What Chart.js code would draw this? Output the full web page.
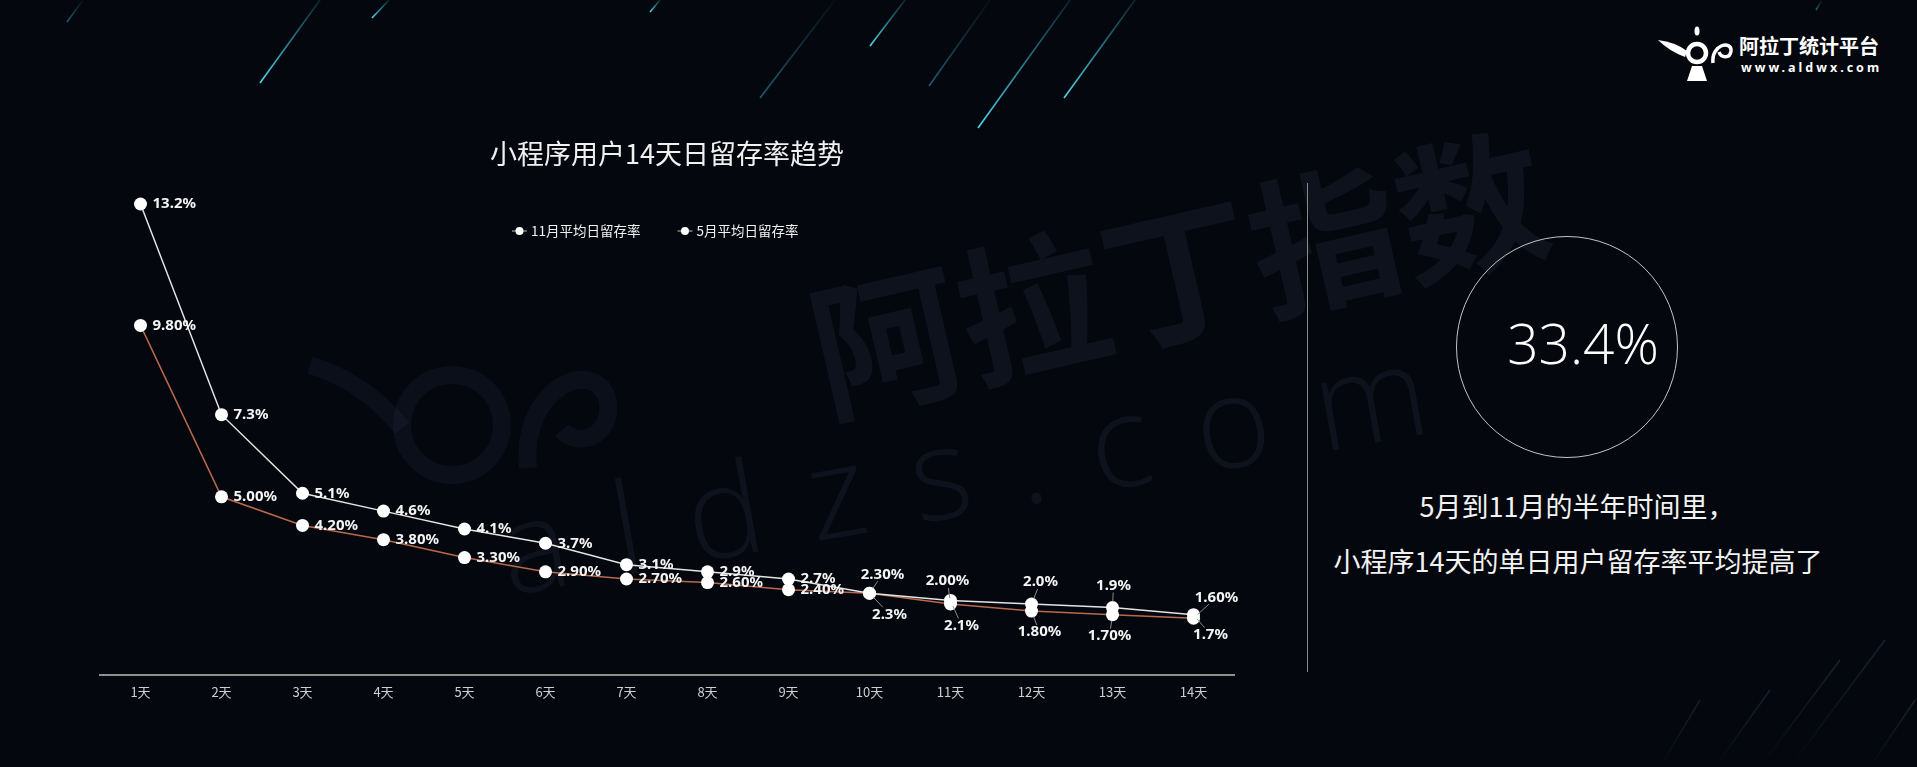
<!DOCTYPE html>
<html>
<head>
<meta charset="utf-8">
<script src="https://cdn.jsdelivr.net/npm/chart.js@4.4.1/dist/chart.umd.min.js"></script>
<style>
  html, body { margin: 0; padding: 0; background: #05070e; width: 1917px; height: 767px; overflow: hidden; }
  body { font-family: "Noto Sans CJK SC", "Noto Sans", sans-serif; color: #f2f2f2; position: relative; }
  .abs { position: absolute; white-space: nowrap; }
  #deco { position: absolute; left: 0; top: 0; }
  #wrap { position: absolute; left: 0; top: 0; width: 1300px; height: 728px; }
  .mark { color: rgba(70, 90, 125, 0.13); line-height: 1; transform-origin: center center; }
</style>
</head>
<body>

<!-- background decoration -->
<svg id="deco" width="1917" height="767">
  <defs>
    <linearGradient id="streak" x1="0" y1="0" x2="0" y2="1">
      <stop offset="0" stop-color="#37c6e0" stop-opacity="0.15"/>
      <stop offset="1" stop-color="#4fd8ee" stop-opacity="1"/>
    </linearGradient>
    <linearGradient id="streakDim" x1="0" y1="0" x2="0" y2="1">
      <stop offset="0" stop-color="#2a8aa0" stop-opacity="0.05"/>
      <stop offset="1" stop-color="#2a9ab4" stop-opacity="0.6"/>
    </linearGradient>
    <linearGradient id="streakLow" x1="0" y1="0" x2="0" y2="1">
      <stop offset="0" stop-color="#1c3a4c" stop-opacity="0.6"/>
      <stop offset="1" stop-color="#1c3a4c" stop-opacity="0"/>
    </linearGradient>
  </defs>
  <g stroke-width="1.6" fill="none">
    <line x1="83" y1="0" x2="67" y2="22" stroke="url(#streakDim)"/>
    <line x1="320" y1="0" x2="260" y2="83" stroke="url(#streak)"/>
    <line x1="389" y1="0" x2="372" y2="18" stroke="url(#streak)"/>
    <line x1="660" y1="0" x2="650" y2="12" stroke="url(#streak)"/>
    <line x1="835" y1="0" x2="760" y2="98" stroke="url(#streakDim)"/>
    <line x1="905" y1="0" x2="870" y2="46" stroke="url(#streak)"/>
    <line x1="990" y1="0" x2="929" y2="86" stroke="url(#streakDim)"/>
    <line x1="1070" y1="0" x2="978" y2="128" stroke="url(#streak)"/>
    <line x1="1135" y1="0" x2="1064" y2="98" stroke="url(#streak)"/>
    <line x1="1822" y1="0" x2="1816" y2="10" stroke="url(#streakDim)"/>
  </g>
  <g stroke-width="1.4" fill="none">
    <line x1="1885" y1="640" x2="1790" y2="767" stroke="url(#streakLow)"/>
    <line x1="1840" y1="660" x2="1760" y2="767" stroke="url(#streakLow)"/>
    <line x1="1770" y1="690" x2="1715" y2="767" stroke="url(#streakLow)"/>
    <line x1="1915" y1="700" x2="1870" y2="767" stroke="url(#streakLow)"/>
    <line x1="1700" y1="700" x2="1660" y2="767" stroke="url(#streakLow)"/>
  </g>
  <!-- faint watermark lamp -->
  <g stroke="rgba(70,90,125,0.1)" fill="none" stroke-width="18">
    <circle cx="452" cy="425" r="50"/>
    <path d="M310 365 Q365 382 402 428"/>
    <path d="M528 468 C520 385 598 355 608 402 C612 438 576 448 562 430"/>
  </g>
  <!-- logo lamp -->
  <g fill="#ffffff" stroke="none">
    <ellipse cx="1697" cy="31" rx="2.5" ry="4.5"/>
    <path d="M1658 40 Q1675 42 1687 51 L1685 57 Q1669 51 1658 40 Z"/>
    <path d="M1692 66 L1702 66 L1707 81 L1687 81 Z"/>
  </g>
  <g fill="none" stroke="#ffffff">
    <circle cx="1697" cy="53" r="9" stroke-width="4.5"/>
    <path d="M1713 63 C1711 44 1732 40 1731 51 C1730 59 1721 58 1719 52" stroke-width="3.5"/>
  </g>
</svg>

<!-- watermark text -->
<div class="abs mark" style="left:1177px;top:266px;font-size:150px;font-weight:bold;transform:translate(-50%,-50%) rotate(-13deg);">阿拉丁指数</div>
<div class="abs mark" style="left:985px;top:462px;font-size:128px;font-weight:300;letter-spacing:46px;font-family:'Open Sans',sans-serif;transform:translate(-50%,-50%) rotate(-10deg);">aldzs.com</div>

<!-- chart -->
<div id="wrap"><canvas id="retention" width="1300" height="728"></canvas></div>

<!-- right panel -->
<div class="abs" style="left:1307px;top:183px;width:1px;height:489px;background:#8a8a8a;"></div>
<div class="abs" style="left:1456px;top:236px;width:220px;height:220px;border:1.5px solid #c4c4c4;border-radius:50%;"></div>
<div class="abs" style="left:1583px;top:342px;transform:translate(-50%,-50%);font-family:'Open Sans',sans-serif;font-weight:300;font-size:55px;line-height:1;color:#ffffff;">33.4%</div>
<div class="abs" style="left:1577px;top:505px;transform:translate(-50%,-50%);font-size:27px;line-height:1;">5月到11月的半年时间里，</div>
<div class="abs" style="left:1578px;top:560px;transform:translate(-50%,-50%);font-size:27px;line-height:1;">小程序14天的单日用户留存率平均提高了</div>

<!-- logo text -->
<div class="abs" style="left:1739px;top:46px;transform:translateY(-50%);font-size:20px;font-weight:bold;line-height:1;color:#fff;">阿拉丁统计平台</div>
<div class="abs" style="left:1741px;top:68px;transform:translateY(-50%);font-family:'Noto Sans',sans-serif;font-size:12.5px;font-weight:bold;letter-spacing:3px;line-height:1;color:#fff;">www.aldwx.com</div>

<script>
const days = ['1天', '2天', '3天', '4天', '5天', '6天', '7天', '8天', '9天', '10天', '11天', '12天', '13天', '14天'];
const novRate = [13.2, 7.3, 5.1, 4.6, 4.1, 3.7, 3.1, 2.9, 2.7, 2.3, 2.1, 2.0, 1.9, 1.7];
const mayRate = [9.8, 5.0, 4.2, 3.8, 3.3, 2.9, 2.7, 2.6, 2.4, 2.3, 2.0, 1.8, 1.7, 1.6];
const seriesNames = ['11月平均日留存率', '5月平均日留存率'];

// where the crowded labels on the right sit, relative to their point (dx, dy)
const labelShift = [
  { 9: [20, 21], 10: [11, 25], 11: [9, -22], 12: [1, -22], 13: [17, 20] },
  { 9: [13, -19], 10: [-3, -23], 11: [8, 21], 12: [-3, 21], 13: [23, -21] }
];

const pointLabels = {
  id: 'pointLabels',
  afterDatasetsDraw(chart, args, opts) {
    const ctx = chart.ctx;
    ctx.save();
    ctx.font = opts.font;
    chart.data.datasets.forEach((ds, i) => {
      const meta = chart.getDatasetMeta(i);
      meta.data.forEach((pt, j) => {
        const txt = ds.data[j].toFixed(ds.decimals) + '%';
        const shift = labelShift[i][j];
        ctx.fillStyle = opts.color;
        if (!shift) {
          ctx.textAlign = 'left';
          ctx.textBaseline = 'middle';
          ctx.fillText(txt, pt.x + opts.gap, pt.y);
          return;
        }
        const cx = pt.x + shift[0], cy = pt.y + shift[1];
        const len = Math.hypot(shift[0], shift[1]);
        const ux = shift[0] / len, uy = shift[1] / len;
        const hw = ctx.measureText(txt).width / 2 + 1, hh = 7;
        const s = Math.min(hw / Math.max(Math.abs(ux), 1e-6), hh / Math.max(Math.abs(uy), 1e-6));
        if (len - s > 6) {
          ctx.strokeStyle = opts.leader;
          ctx.lineWidth = 1;
          ctx.beginPath();
          ctx.moveTo(pt.x + ux * 6, pt.y + uy * 6);
          ctx.lineTo(cx - ux * s, cy - uy * s);
          ctx.stroke();
        }
        ctx.textAlign = 'center';
        ctx.textBaseline = 'middle';
        ctx.fillText(txt, cx, cy);
      });
    });
    ctx.restore();
  }
};

const floatLegend = {
  id: 'floatLegend',
  afterDraw(chart, args, opts) {
    const ctx = chart.ctx;
    ctx.save();
    ctx.font = opts.font;
    ctx.textBaseline = 'middle';
    ctx.textAlign = 'left';
    let x = opts.x;
    chart.data.datasets.forEach((ds) => {
      ctx.strokeStyle = opts.lineColor;
      ctx.lineWidth = 1;
      ctx.beginPath();
      ctx.moveTo(x, opts.y);
      ctx.lineTo(x + 15, opts.y);
      ctx.stroke();
      ctx.fillStyle = '#ffffff';
      ctx.beginPath();
      ctx.arc(x + 7.5, opts.y, 4, 0, Math.PI * 2);
      ctx.fill();
      ctx.fillStyle = opts.color;
      ctx.fillText(ds.label, x + 19, opts.y);
      x += 19 + ctx.measureText(ds.label).width + opts.spacing;
    });
    ctx.restore();
  }
};

new Chart(document.getElementById('retention'), {
  type: 'line',
  data: {
    labels: days,
    datasets: [
      {
        label: seriesNames[0],
        data: novRate,
        decimals: 1,
        borderColor: '#e4e4e4',
        borderWidth: 1.5,
        pointRadius: 6.5,
        pointBackgroundColor: '#ffffff',
        pointBorderWidth: 0,
        tension: 0
      },
      {
        label: seriesNames[1],
        data: mayRate,
        decimals: 2,
        borderColor: '#b9694b',
        borderWidth: 1.5,
        pointRadius: 6.5,
        pointBackgroundColor: '#ffffff',
        pointBorderWidth: 0,
        tension: 0
      }
    ]
  },
  options: {
    responsive: false,
    animation: false,
    devicePixelRatio: 1,
    layout: { padding: { left: 100, right: 66, top: 0, bottom: 19 } },
    plugins: {
      legend: { display: false },
      tooltip: { enabled: false },
      title: {
        display: true,
        text: '小程序用户14天日留存率趋势',
        color: '#f0f0f0',
        font: { family: '"Noto Sans CJK SC"', size: 27, weight: 'normal' },
        padding: { top: 138, bottom: 5 }
      },
      pointLabels: {
        font: 'bold 15px "Noto Sans", "Open Sans", sans-serif',
        color: '#f4f4f4',
        leader: '#8c8c8c',
        gap: 12
      },
      floatLegend: {
        x: 512,
        y: 231,
        spacing: 37,
        font: '13.5px "Noto Sans CJK SC", sans-serif',
        color: '#f0f0f0',
        lineColor: '#bdbdbd'
      }
    },
    scales: {
      x: {
        offset: true,
        grid: { display: false, drawTicks: false },
        border: { display: true, color: '#8f8f8f', width: 2 },
        ticks: {
          color: '#cfcfcf',
          padding: 9,
          font: { family: '"Noto Sans CJK SC"', size: 13 }
        }
      },
      y: {
        display: false,
        min: 0,
        max: 14
      }
    }
  },
  plugins: [pointLabels, floatLegend]
});
</script>
</body>
</html>
